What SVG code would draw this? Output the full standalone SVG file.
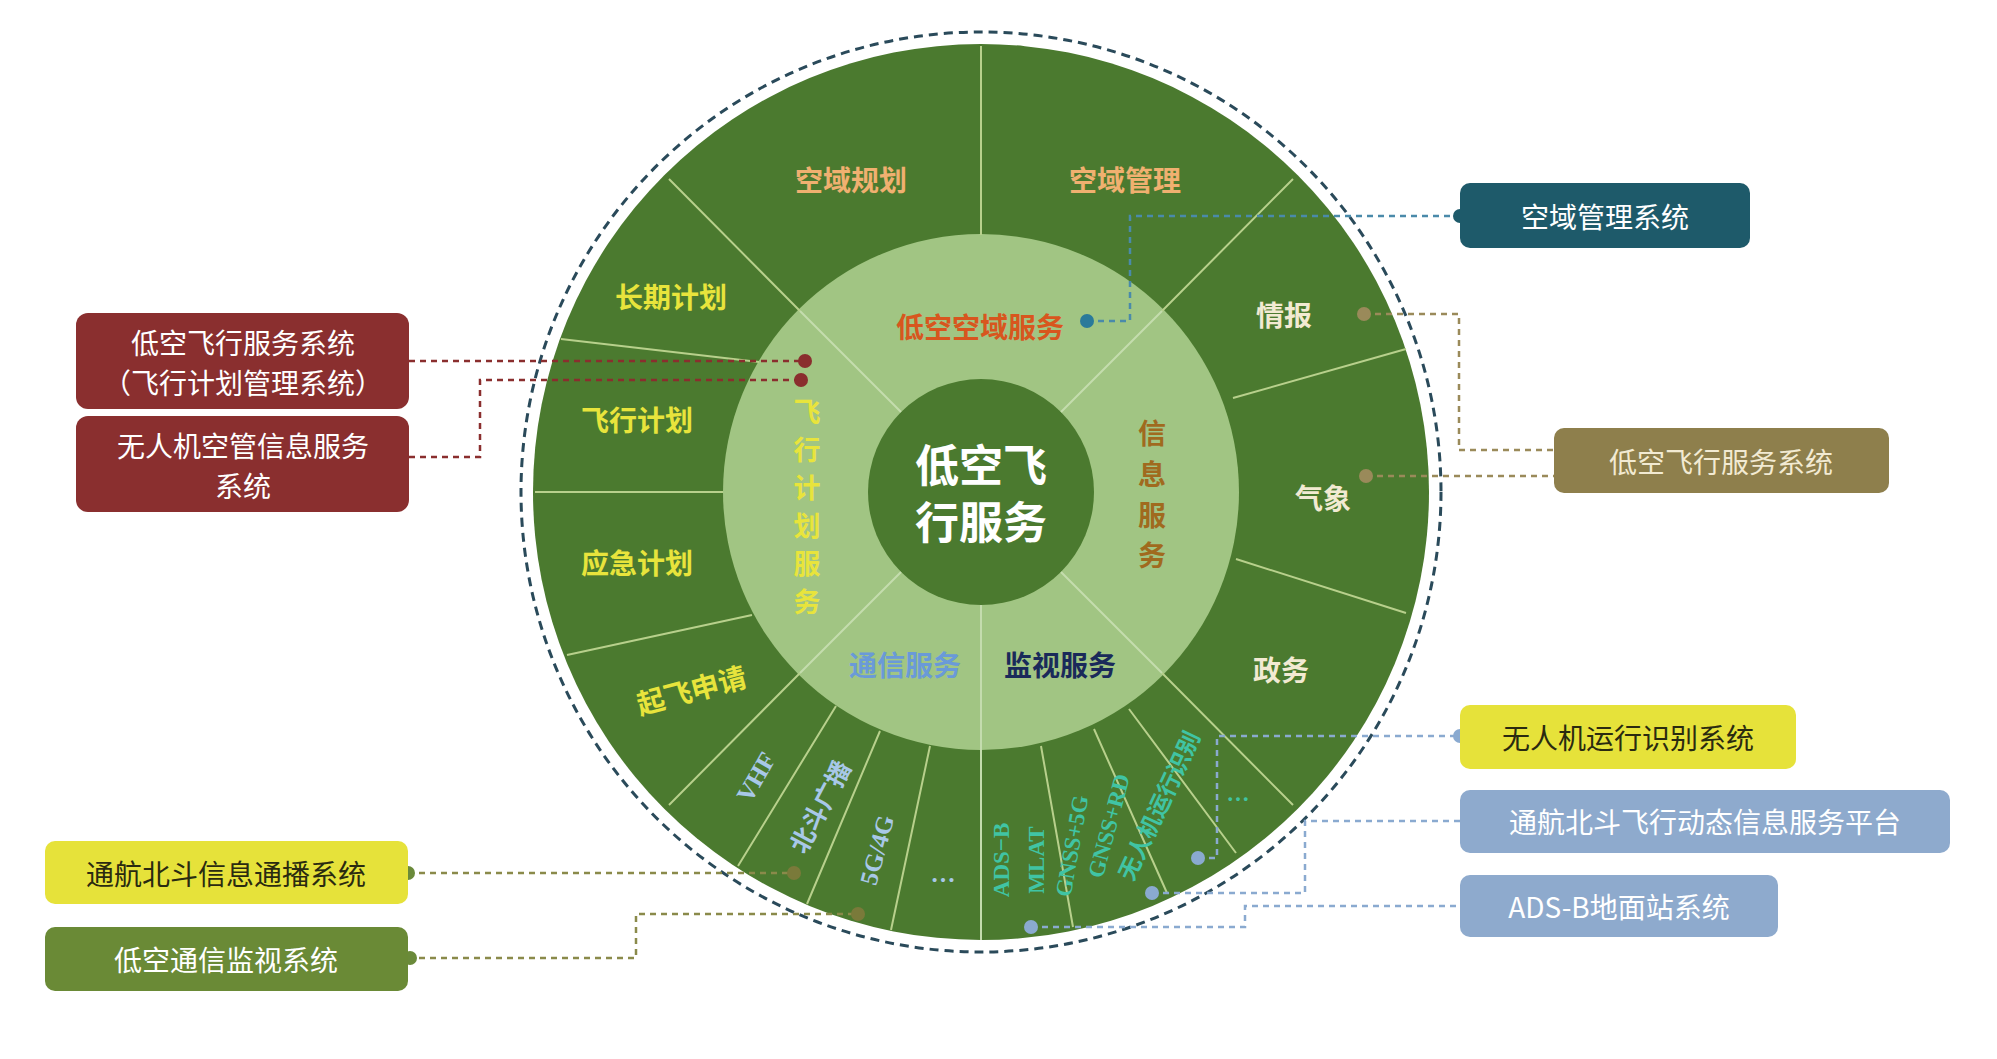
<svg xmlns="http://www.w3.org/2000/svg" width="1997" height="1059" viewBox="0 0 1997 1059">
<style>
text{font-family:"Noto Sans CJK SC","Liberation Sans",sans-serif;font-weight:bold;text-anchor:middle;dominant-baseline:central}
.sep{stroke:#b8d08c;stroke-width:2;fill:none}
.lsep{stroke:#c4dcae;stroke-width:2;fill:none}
.o{font-size:28px;fill:#f0b070}
.y{font-size:28px;fill:#e8e43c}
.w{font-size:28px;fill:#f2ead2}
.b{font-size:25px;fill:#a8c8e8;font-family:"Liberation Serif","Noto Sans CJK SC",serif}
.t{font-size:23px;fill:#40c4a4;font-family:"Liberation Serif","Noto Sans CJK SC",serif}
.bx{font-size:28px;font-weight:normal}
.c{fill:none;stroke-width:2.5;stroke-dasharray:6 5}
</style>
<rect width="1997" height="1059" fill="#ffffff"/>
<g id="wheel">
<circle cx="981" cy="492" r="460" fill="none" stroke="#2a4a5a" stroke-width="3" stroke-dasharray="9 6"/>
<circle cx="981" cy="492" r="448" fill="#4b7a2f"/>
<circle cx="981" cy="492" r="258" fill="#a1c583"/>
<circle cx="981" cy="492" r="113" fill="#4b7a2f"/>
<path class="sep" d="M981 46V235M669 179L800 311M1293 179L1162 311M561 339L759 362M535 492H723M567 655L752 615M669 805L800 673M1293 805L1162 673M738 866L836 706M807 904L880 731M891 930L930 746M1073 927L1041 746M1167 893L1094 729M1236 853L1129 709M1233 398L1406 349M1236 559L1406 613"/>
<path class="lsep" d="M800 311L901 412M1162 311L1061 412M800 673L901 572M1162 673L1061 572M981 605V940"/>
</g>
<g id="center"><text x="981" y="463" font-size="44" fill="#ffffff">低空飞</text><text x="981" y="520" font-size="44" fill="#ffffff">行服务</text></g>
<g id="inner">
<text x="980" y="326" font-size="28" fill="#d8561e">低空空域服务</text>
<text font-size="27" fill="#e8e43c"><tspan x="807" y="410">飞</tspan><tspan x="807" y="448">行</tspan><tspan x="807" y="486">计</tspan><tspan x="807" y="524">划</tspan><tspan x="807" y="562">服</tspan><tspan x="807" y="600">务</tspan></text>
<text font-size="28" fill="#a06a1e"><tspan x="1152" y="432">信</tspan><tspan x="1152" y="473">息</tspan><tspan x="1152" y="514">服</tspan><tspan x="1152" y="554">务</tspan></text>
<text x="905" y="664" font-size="28" fill="#6a9ad8">通信服务</text>
<text x="1060" y="664" font-size="28" fill="#1a2a5a">监视服务</text>
</g>
<g id="outer">
<text class="o" x="851" y="179">空域规划</text>
<text class="o" x="1125" y="179">空域管理</text>
<text class="y" x="671" y="296">长期计划</text>
<text class="y" x="637" y="419">飞行计划</text>
<text class="y" x="637" y="562">应急计划</text>
<text class="y" transform="translate(691,689) rotate(-15)">起飞申请</text>
<text class="w" x="1284" y="314">情报</text>
<text class="w" x="1323" y="497">气象</text>
<text class="w" x="1281" y="669">政务</text>
<text class="b" transform="translate(756,777) rotate(-60)">VHF</text>
<text class="b" transform="translate(821,807) rotate(-62)">北斗广播</text>
<text class="b" transform="translate(877,850) rotate(-75)">5G/4G</text>
<text class="b" x="943" y="873">…</text>
<text class="t" font-size="25" transform="translate(1001,860) rotate(-90)">ADS−B</text>
<text class="t" font-size="25" transform="translate(1036,860) rotate(-90)">MLAT</text>
<text class="t" transform="translate(1072,846) rotate(-80)">GNSS+5G</text>
<text class="t" transform="translate(1109,826) rotate(-75)">GNSS+RD</text>
<text class="t" font-size="18" transform="translate(1160,806) rotate(-65)">无人机运行识别</text>
<text class="t" x="1238" y="793">…</text>
</g>
<g id="connectors">
<path class="c" stroke="#4a8aaa" d="M1087 321H1130V216H1460"/>
<path class="c" stroke="#9a8a5a" d="M1364 314H1459V450H1554M1366 476H1554"/>
<path class="c" stroke="#8aaad0" d="M1198 858H1217V736H1460M1152 893H1305V821H1460M1031 927H1245V906H1460"/>
<path class="c" stroke="#8a2e2e" d="M409 361H805M409 457H480V380H801"/>
<path class="c" stroke="#8a8a4a" d="M408 873H794M408 958H636V914H858"/>
<circle cx="1087" cy="321" r="7" fill="#2a7a9a"/><circle cx="1460" cy="216" r="7" fill="#1e5a6a"/>
<circle cx="1364" cy="314" r="7" fill="#9a8a5a"/><circle cx="1366" cy="476" r="7" fill="#9a8a5a"/>
<circle cx="1198" cy="858" r="7" fill="#8aaad0"/><circle cx="1152" cy="893" r="7" fill="#8aaad0"/><circle cx="1031" cy="927" r="7" fill="#8aaad0"/>
<circle cx="1460" cy="736" r="7" fill="#8aaad0"/>
<circle cx="805" cy="361" r="7" fill="#8a2e2e"/><circle cx="801" cy="380" r="7" fill="#8a2e2e"/>
<circle cx="408" cy="873" r="7" fill="#6a8a3a"/><circle cx="410" cy="958" r="7" fill="#6a8a3a"/>
<circle cx="794" cy="873" r="7" fill="#7a7a3a"/><circle cx="858" cy="914" r="7" fill="#7a7a3a"/>
</g>
<g id="box-kyglxt"><rect x="1460" y="183" width="290" height="65" rx="10" fill="#1e5a6a"/><text class="bx" x="1605" y="216" fill="#ffffff">空域管理系统</text></g>
<g id="box-dkfxfwxt"><rect x="1554" y="428" width="335" height="65" rx="10" fill="#8e7f4c"/><text class="bx" x="1721" y="461" fill="#f2ead2">低空飞行服务系统</text></g>
<g id="box-wrjyxsb"><rect x="1460" y="705" width="336" height="64" rx="10" fill="#e6e23a"/><text class="bx" x="1628" y="737" fill="#2a2a10">无人机运行识别系统</text></g>
<g id="box-thbd"><rect x="1460" y="790" width="490" height="63" rx="10" fill="#8eaacd"/><text class="bx" x="1705" y="821" fill="#ffffff">通航北斗飞行动态信息服务平台</text></g>
<g id="box-adsb"><rect x="1460" y="875" width="318" height="62" rx="10" fill="#8eaacd"/><text class="bx" x="1619" y="906" fill="#ffffff">ADS-B地面站系统</text></g>
<g id="box-fxjh"><rect x="76" y="313" width="333" height="96" rx="12" fill="#8a2f2f"/><text class="bx" x="243" y="342" fill="#ffffff">低空飞行服务系统</text><text class="bx" x="243" y="382" fill="#ffffff">（飞行计划管理系统）</text></g>
<g id="box-wrjkg"><rect x="76" y="416" width="333" height="96" rx="12" fill="#8a2f2f"/><text class="bx" x="243" y="445" fill="#ffffff">无人机空管信息服务</text><text class="bx" x="243" y="485" fill="#ffffff">系统</text></g>
<g id="box-thbdtb"><rect x="45" y="841" width="363" height="63" rx="10" fill="#e6e23a"/><text class="bx" x="226" y="873" fill="#2a2a10">通航北斗信息通播系统</text></g>
<g id="box-dktx"><rect x="45" y="927" width="363" height="64" rx="10" fill="#6a8a36"/><text class="bx" x="226" y="959" fill="#ffffff">低空通信监视系统</text></g>
</svg>
